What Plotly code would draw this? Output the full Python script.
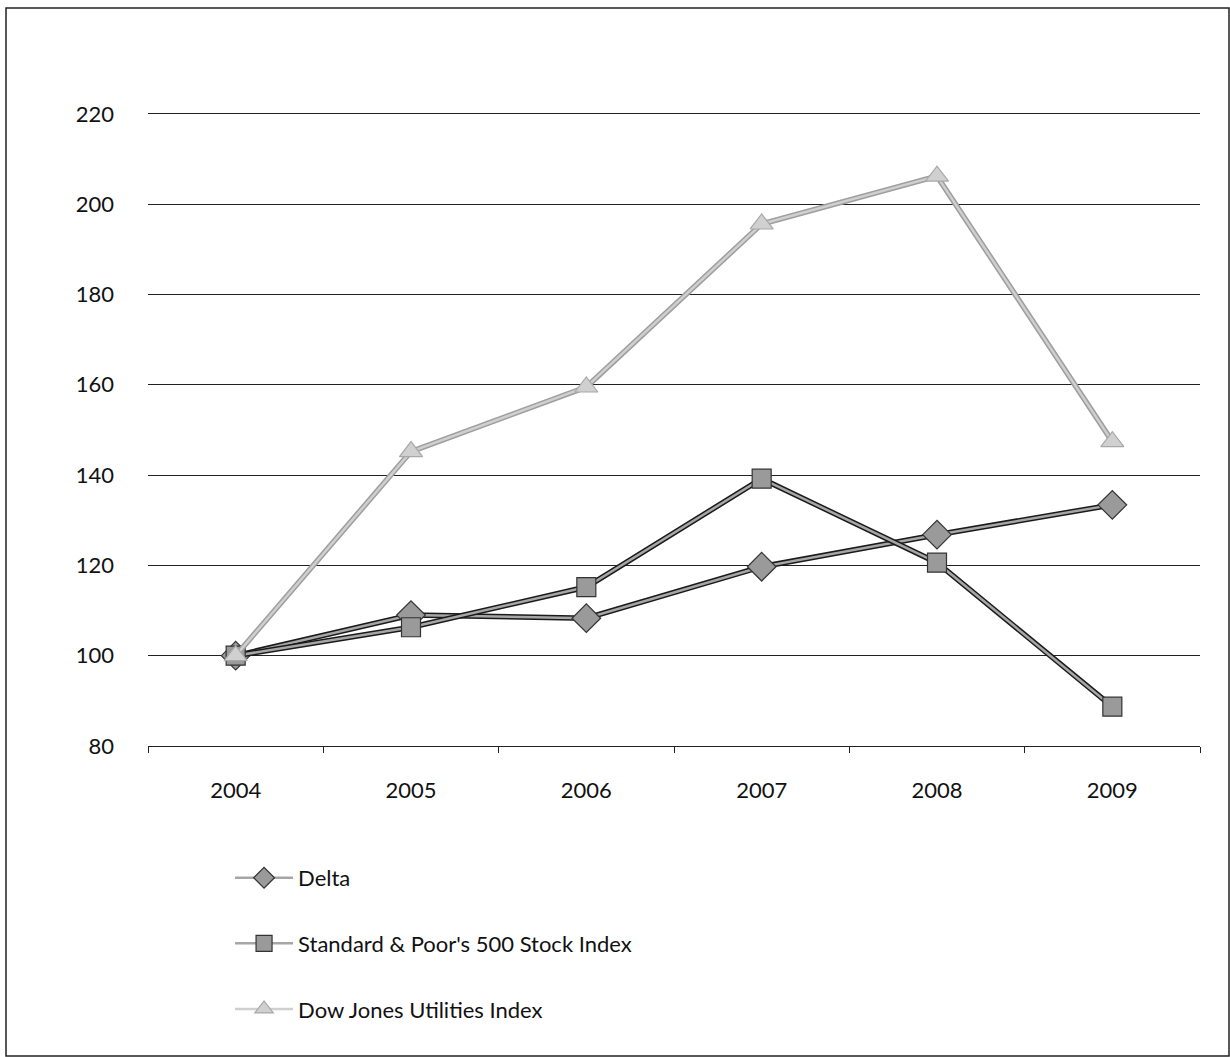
import plotly.graph_objects as go

years = ["2004", "2005", "2006", "2007", "2008", "2009"]
delta = [100, 109.0, 108.3, 119.7, 126.8, 133.4]
sp500 = [100, 106.3, 115.2, 139.2, 120.6, 88.7]
dowju = [100, 145.2, 159.5, 195.6, 206.2, 147.4]
yticks = [80, 100, 120, 140, 160, 180, 200, 220]

FONT = "Lato"
FS = 22
fig = go.Figure()

series = [
    ("Delta", delta, "diamond", 22, "#a6a6a6", "#1a1a1a", "#9a9a9a", "#333333"),
    ("Standard & Poor's 500 Stock Index", sp500, "square", 19, "#a6a6a6", "#1a1a1a", "#9a9a9a", "#333333"),
    ("Dow Jones Utilities Index", dowju, "triangle-up", 20, "#cfcfcf", "#9e9e9e", "#d0d0d0", "#a8a8a8"),
]

for i, (name, vals, sym, size, inner, outer, mfill, mline) in enumerate(series):
    fig.add_trace(go.Scatter(
        x=years, y=vals, mode="lines", showlegend=False, hoverinfo="skip",
        line=dict(color=outer, width=5.5),
    ))
    fig.add_trace(go.Scatter(
        x=years, y=vals, mode="lines+markers", name=name, legendgroup=f"g{i}",
        line=dict(color=inner, width=2.5),
        marker=dict(symbol=sym, size=size, color=mfill, line=dict(color=mline, width=1.2)),
    ))

fig.update_layout(
    width=1230, height=1057,
    margin=dict(l=148, r=30, t=112, b=311),
    paper_bgcolor="white", plot_bgcolor="white",
    font=dict(family=FONT, size=FS, color="#111111"),
    showlegend=True,
    legend=dict(
        x=0.078, y=-0.175, xanchor="left", yanchor="top",
        font=dict(family=FONT, size=FS, color="#111111"),
        tracegroupgap=34, itemwidth=58, bgcolor="rgba(0,0,0,0)",
    ),
    xaxis=dict(
        type="category", showgrid=False, showline=True, linecolor="#222222", linewidth=1.2,
        ticks="outside", tickson="boundaries", ticklen=6, tickcolor="#222222",
        ticklabelstandoff=24, tickfont=dict(family=FONT, size=FS, color="#111111"),
        range=[-0.5, 5.5], fixedrange=True,
    ),
    yaxis=dict(
        range=[80, 220.4], tickvals=yticks, showgrid=True, gridcolor="#222222", gridwidth=1.2,
        zeroline=False, showline=False, ticks="", ticklabelstandoff=33,
        tickfont=dict(family=FONT, size=FS, color="#111111"),
    ),
    shapes=[dict(
        type="rect", xref="paper", yref="paper",
        x0=(6 - 148) / 1052, x1=(1229 - 148) / 1052,
        y0=(746 - 1056) / 634, y1=(746 - 8) / 634,
        line=dict(color="#222222", width=1.5), fillcolor="rgba(0,0,0,0)", layer="below",
    )],
)

fig.write_html("out.html")
